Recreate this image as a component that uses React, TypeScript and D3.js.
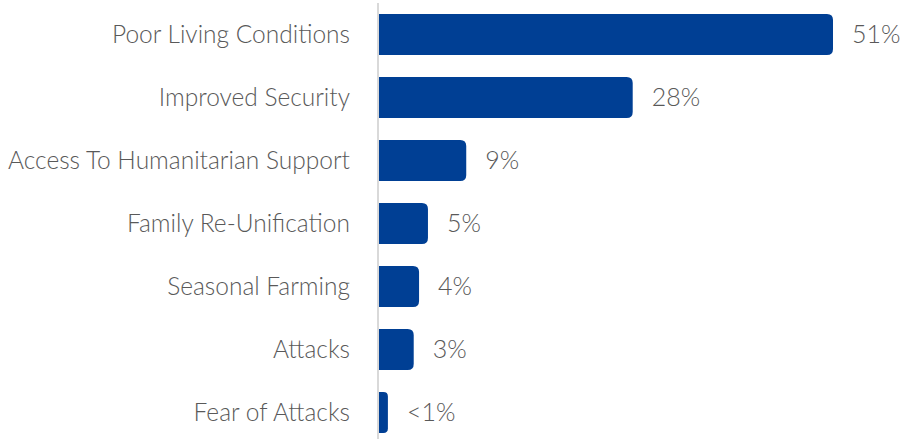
import React from "react";
import * as d3 from "d3";

const categories = [
  "Poor Living Conditions",
  "Improved Security",
  "Access To Humanitarian Support",
  "Family Re-Unification",
  "Seasonal Farming",
  "Attacks",
  "Fear of Attacks",
];
const values = [51, 28.5, 9.8, 5.5, 4.5, 3.9, 1.0];
const valueLabels = ["51%", "28%", "9%", "5%", "4%", "3%", "<1%"];

const W = 905;
const H = 439;
const axisX = 379;

export default function App() {
  const x = d3.scaleLinear().domain([0, 51]).range([axisX, 833]);
  const y = d3
    .scaleBand<string>()
    .domain(categories)
    .range([3, 3 + 63 * 7])
    .paddingInner(0.35)
    .paddingOuter(0.175);
  const font = "Lato, 'Open Sans', sans-serif";
  const r = 6;
  const barPath = (x0: number, x1: number, y0: number, h: number) => {
    const rr = Math.min(r, (x1 - x0) / 2, h / 2);
    return `M${x0},${y0}H${x1 - rr}Q${x1},${y0} ${x1},${y0 + rr}V${y0 + h - rr}Q${x1},${y0 + h} ${x1 - rr},${y0 + h}H${x0}Z`;
  };
  return (
    <svg
      width={W}
      height={H}
      style={{ position: "absolute", left: 0, top: 0, background: "#fff" }}
    >
      {categories.map((c, i) => {
        const y0 = y(c)!;
        const h = y.bandwidth();
        const cy = y0 + h / 2;
        return (
          <g key={c}>
            <path d={barPath(axisX, x(values[i]), y0, h)} fill="#003f94" />
            <text
              x={350}
              y={cy}
              dy="0.35em"
              textAnchor="end"
              fontFamily={font}
              fontSize={24.5}
              fontWeight={300}
              fill="#595959"
            >
              {c}
            </text>
            <text
              x={x(values[i]) + 19}
              y={cy}
              dy="0.35em"
              fontFamily={font}
              fontSize={25}
              fontWeight={300}
              fill="#595959"
            >
              {valueLabels[i]}
            </text>
          </g>
        );
      })}
      <line x1={axisX - 1} x2={axisX - 1} y1={3} y2={H} stroke="#d9d9d9" strokeWidth={2} />
    </svg>
  );
}
